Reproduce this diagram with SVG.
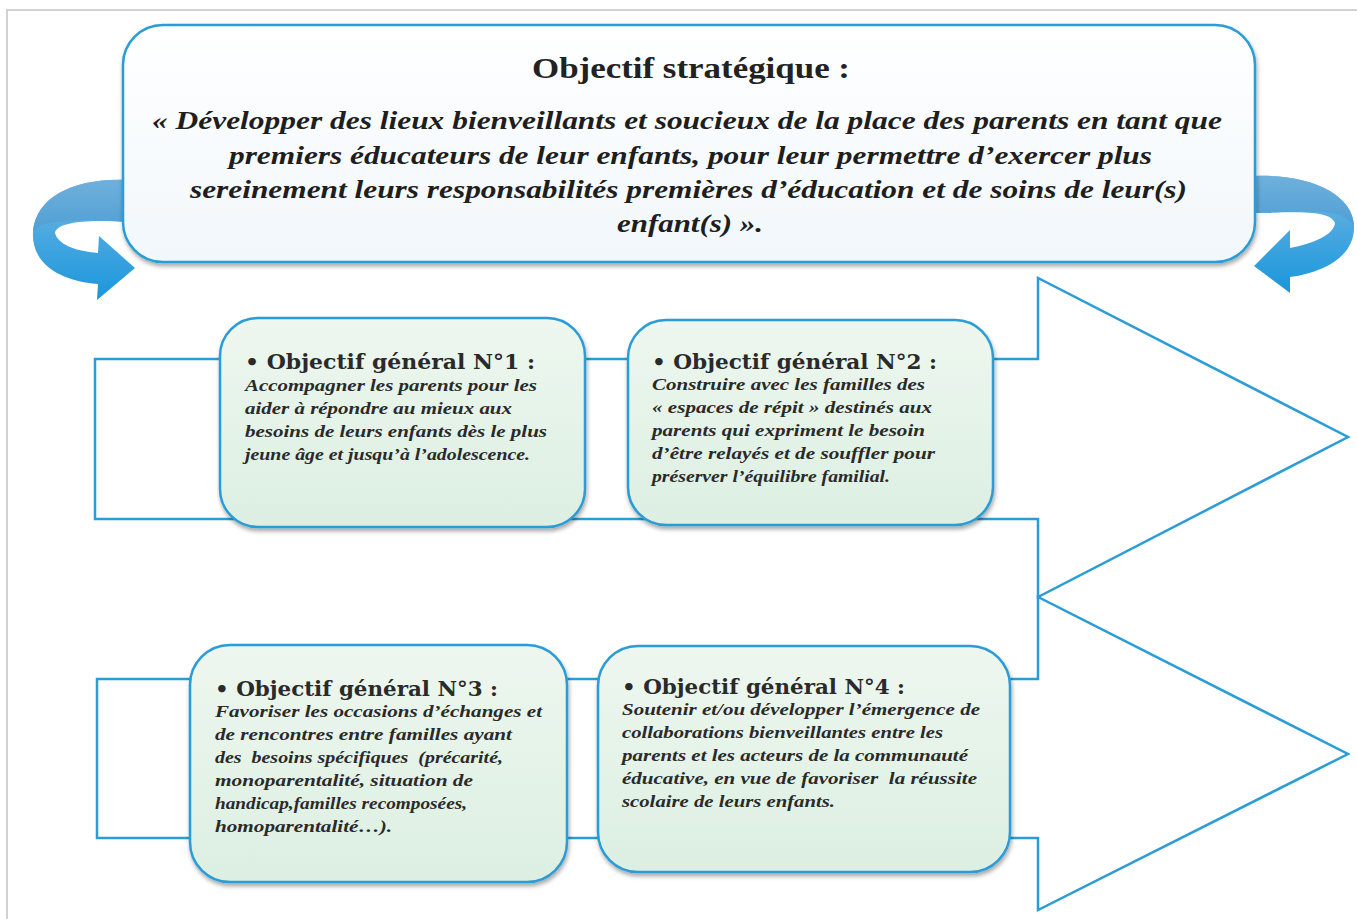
<svg xmlns="http://www.w3.org/2000/svg" width="1357" height="919" viewBox="0 0 1357 919">
<defs>
<linearGradient id="boxFill" x1="0" y1="0" x2="0" y2="1">
<stop offset="0" stop-color="#eef7ef"/>
<stop offset="1" stop-color="#dcefe2"/>
</linearGradient>
<linearGradient id="topFill" x1="0" y1="0" x2="0" y2="1">
<stop offset="0" stop-color="#ffffff"/>
<stop offset="1" stop-color="#f1f7fb"/>
</linearGradient>
<linearGradient id="curlG" x1="0" y1="0" x2="0" y2="1">
<stop offset="0" stop-color="#7db8df"/>
<stop offset="0.45" stop-color="#4aa8e0"/>
<stop offset="1" stop-color="#1996dc"/>
</linearGradient>
<linearGradient id="backG" x1="0" y1="0" x2="0" y2="1">
<stop offset="0" stop-color="#6fb0dc"/>
<stop offset="1" stop-color="#4f9fd4"/>
</linearGradient>
<filter id="sh" x="-5%" y="-5%" width="110%" height="115%">
<feDropShadow dx="1" dy="3" stdDeviation="2" flood-color="#000" flood-opacity="0.35"/>
</filter>
<style>
.frame{fill:none;stroke:#c4c4c4;stroke-width:1.5}
.big{fill:#ffffff;stroke:#2a9cd6;stroke-width:2.5;stroke-linejoin:miter}
.box{fill:url(#boxFill);stroke:#2a9cd6;stroke-width:2.5}
.top{fill:url(#topFill);stroke:#2a9cd6;stroke-width:2.5}
.curl{fill:url(#curlG)}
.back{fill:url(#backG)}
.ttl{font-family:"Liberation Serif","Times New Roman",serif;font-weight:bold;font-size:30px;fill:#222}
.main{font-family:"Liberation Serif","Times New Roman",serif;font-weight:bold;font-style:italic;font-size:26px;fill:#1e1e1e}
.hd{font-family:"DejaVu Serif","Liberation Serif",serif;font-weight:bold;font-size:21px;fill:#2a2a2a}
.bd{font-family:"Liberation Serif","Times New Roman",serif;font-weight:bold;font-style:italic;font-size:17.5px;fill:#2a2a2a}
</style>
</defs>
<rect width="1357" height="919" fill="#ffffff"/>
<path class="frame" d="M7,919 L7,10 L1357,10"/>

<g id="connectors">
<path id="arrow-upper" class="big" d="M95,359 L1038,359 L1038,278 L1348,437 L1038,597 L1038,519 L95,519 Z"/>
<path id="arrow-lower" class="big" d="M97,679 L1038,679 L1038,597 L1348,754 L1038,910 L1038,838 L97,838 Z"/>
<g id="curl-left">
<path class="curl" d="M127,180 C75,178 36,196 33,232 C31,262 58,281 98,284 L97,300 L135,268 L99,236 L98,253 C74,251 58,244 55,233 C56,222 88,219 127,222 Z"/>
<path class="back" d="M127,180 C75,178 36,196 33,232 C40,224 50,222 60,222 C80,219 100,220 127,222 Z"/>
</g>
<g id="curl-right">
<path class="curl" d="M1255,176 C1310,174 1353,194 1354,226 C1355,254 1328,272 1290,277 L1290,293 L1254,266 L1290,230 L1290,248 C1316,243 1334,234 1335,223 C1330,210 1298,212 1255,213 Z"/>
<path class="back" d="M1255,176 C1310,174 1353,194 1354,226 C1348,218 1340,214 1330,213 C1305,211 1285,212 1255,213 Z"/>
</g>
</g>

<g id="strategic">
<rect class="top" x="123" y="25" width="1132" height="237" rx="40" filter="url(#sh)"/>
<text class="ttl" x="532" y="78" textLength="318" lengthAdjust="spacingAndGlyphs">Objectif stratégique :</text>
<text class="main" x="152" y="129" textLength="1070" lengthAdjust="spacingAndGlyphs">« Développer des lieux bienveillants et soucieux de la place des parents en tant que</text>
<text class="main" x="229" y="164" textLength="923" lengthAdjust="spacingAndGlyphs">premiers éducateurs de leur enfants, pour leur permettre d’exercer plus</text>
<text class="main" x="190" y="198" textLength="997" lengthAdjust="spacingAndGlyphs">sereinement leurs responsabilités premières d’éducation et de soins de leur(s)</text>
<text class="main" x="617" y="232" textLength="146" lengthAdjust="spacingAndGlyphs">enfant(s) ».</text>
</g>

<g id="obj1">
<rect class="box" x="220" y="318" width="365" height="209" rx="38" filter="url(#sh)"/>
<text class="hd" x="245" y="369" textLength="290" lengthAdjust="spacingAndGlyphs">• Objectif général N°1 :</text>
<text class="bd" x="245" y="391" textLength="292" lengthAdjust="spacingAndGlyphs">Accompagner les parents pour les</text>
<text class="bd" x="245" y="414" textLength="267" lengthAdjust="spacingAndGlyphs">aider à répondre au mieux aux</text>
<text class="bd" x="245" y="437" textLength="302" lengthAdjust="spacingAndGlyphs">besoins de leurs enfants dès le plus</text>
<text class="bd" x="245" y="460" textLength="285" lengthAdjust="spacingAndGlyphs">jeune âge et jusqu’à l’adolescence.</text>
</g>

<g id="obj2">
<rect class="box" x="628" y="320" width="365" height="205" rx="38" filter="url(#sh)"/>
<text class="hd" x="652" y="369" textLength="285" lengthAdjust="spacingAndGlyphs">• Objectif général N°2 :</text>
<text class="bd" x="652" y="390" textLength="273" lengthAdjust="spacingAndGlyphs">Construire avec les familles des</text>
<text class="bd" x="652" y="413" textLength="280" lengthAdjust="spacingAndGlyphs">« espaces de répit » destinés aux</text>
<text class="bd" x="652" y="436" textLength="273" lengthAdjust="spacingAndGlyphs">parents qui expriment le besoin</text>
<text class="bd" x="652" y="459" textLength="283" lengthAdjust="spacingAndGlyphs">d’être relayés et de souffler pour</text>
<text class="bd" x="652" y="482" textLength="238" lengthAdjust="spacingAndGlyphs">préserver l’équilibre familial.</text>
</g>

<g id="obj3">
<rect class="box" x="190" y="645" width="377" height="237" rx="40" filter="url(#sh)"/>
<text class="hd" x="215" y="696" textLength="283" lengthAdjust="spacingAndGlyphs">• Objectif général N°3 :</text>
<text class="bd" x="215" y="717" textLength="327" lengthAdjust="spacingAndGlyphs">Favoriser les occasions d’échanges et</text>
<text class="bd" x="215" y="740" textLength="297" lengthAdjust="spacingAndGlyphs">de rencontres entre familles ayant</text>
<text class="bd" x="215" y="763" textLength="288" lengthAdjust="spacingAndGlyphs" xml:space="preserve">des  besoins spécifiques  (précarité,</text>
<text class="bd" x="215" y="786" textLength="258" lengthAdjust="spacingAndGlyphs">monoparentalité, situation de</text>
<text class="bd" x="215" y="809" textLength="252" lengthAdjust="spacingAndGlyphs">handicap,familles recomposées,</text>
<text class="bd" x="215" y="832" textLength="177" lengthAdjust="spacingAndGlyphs">homoparentalité…).</text>
</g>

<g id="obj4">
<rect class="box" x="598" y="646" width="412" height="226" rx="40" filter="url(#sh)"/>
<text class="hd" x="622" y="694" textLength="283" lengthAdjust="spacingAndGlyphs">• Objectif général N°4 :</text>
<text class="bd" x="622" y="715" textLength="358" lengthAdjust="spacingAndGlyphs">Soutenir et/ou développer l’émergence de</text>
<text class="bd" x="622" y="738" textLength="321" lengthAdjust="spacingAndGlyphs">collaborations bienveillantes entre les</text>
<text class="bd" x="622" y="761" textLength="346" lengthAdjust="spacingAndGlyphs">parents et les acteurs de la communauté</text>
<text class="bd" x="622" y="784" textLength="355" lengthAdjust="spacingAndGlyphs" xml:space="preserve">éducative, en vue de favoriser  la réussite</text>
<text class="bd" x="622" y="807" textLength="213" lengthAdjust="spacingAndGlyphs">scolaire de leurs enfants.</text>
</g>
</svg>
